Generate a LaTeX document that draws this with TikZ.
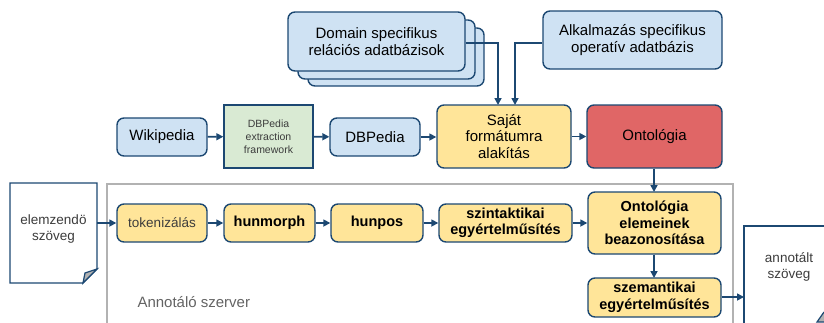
\documentclass[tikz,border=0pt]{standalone}
\usepackage{fontspec}
\setmainfont{Liberation Sans}
\usetikzlibrary{arrows.meta}
\definecolor{edge}{RGB}{28,72,114}
\definecolor{lblue}{RGB}{207,226,243}
\definecolor{lyellow}{RGB}{255,229,153}
\definecolor{lgreen}{RGB}{217,234,211}
\definecolor{lred}{RGB}{224,102,102}
\definecolor{srvgray}{RGB}{178,178,178}
\definecolor{txtgray}{RGB}{60,60,60}
\tikzset{
  box/.style={draw=edge, line width=1.4pt, rounded corners=7pt, inner sep=0pt, align=center,
    font=\fontsize{15}{16.5}\selectfont},
  bluebox/.style={box, fill=lblue},
  yelbox/.style={box, fill=lyellow},
  boldbox/.style={yelbox, font=\fontsize{14.5}{16.5}\selectfont\bfseries},
  conn/.style={draw=edge, line width=1.6pt, -{Triangle[length=7pt,width=7pt]}},
}
\newcommand{\bx}[7]{\node[#1, minimum width=#4pt-#2pt, minimum height=#5pt-#3pt] (#6) at ({(#2+#4)/2},{-(#3+#5)/2}) {#7};}
\begin{document}
\begin{tikzpicture}[x=1pt,y=1pt]
\useasboundingbox (0,0) rectangle (824,-322);
% server box
\draw[srvgray, line width=1.4pt] (107,-340) -- (107,-184) -- (733,-184) -- (733,-340);
\node[text=txtgray!80, anchor=west, font=\fontsize{15}{17}\selectfont] (srv) at (134,-302) {Annotáló szerver};
% domain stack
\bx{bluebox}{308}{28}{484}{86}{dom3}{}
\bx{bluebox}{298}{20}{475}{79}{dom2}{}
\bx{bluebox}{288}{12}{465}{71}{dom}{Domain specifikus\\relációs adatbázisok}
\bx{bluebox}{543}{11}{722}{69}{alk}{Alkalmazás specifikus\\operatív adatbázis}
% row 1
\bx{bluebox}{117}{118}{207}{156}{wiki}{Wikipedia}
\node[draw=edge, line width=1.4pt, fill=lgreen, inner sep=0pt, align=center, text=txtgray,
  minimum width=89pt, minimum height=63pt, font=\fontsize{10.5}{13}\selectfont] (ext) at (268.5,-136.5) {DBPedia\\extraction\\framework};
\bx{bluebox}{330}{118}{420}{156}{dbp}{DBPedia}
\bx{yelbox}{437}{105}{571}{168}{saj}{Saját\\formátumra\\alakítás}
\bx{box, fill=lred}{587}{105}{722}{168}{onto}{Ontológia}
% row 2
\bx{yelbox}{117}{204}{207}{242}{tok}{\color{txtgray}\fontsize{13.5}{16}\selectfont tokenizálás}
\bx{boldbox}{224}{204}{315}{242}{hmo}{hunmorph}
\bx{boldbox}{331}{204}{423}{242}{hpo}{hunpos}
\bx{boldbox}{439}{204}{572}{242}{szi}{szintaktikai\\egyértelműsítés}
\bx{boldbox}{588}{192}{721}{254}{ele}{Ontológia\\elemeinek\\beazonosítása}
\bx{boldbox}{588}{278}{721}{317}{sze}{szemantikai\\egyértelműsítés}
% input document
\draw[edge, line width=1.4pt, fill=white] (10,-183) -- (97,-183) -- (97,-269) -- (83,-283) -- (10,-283) -- cycle;
\draw[edge, line width=1.2pt, fill=srvgray] (97,-269) -- (85,-273) -- (83,-283) -- cycle;
\node[text=txtgray, align=center, font=\fontsize{13.5}{16}\selectfont] (inp) at (53.5,-229) {elemzendö\\szöveg};
\coordinate (inpR) at (97,-223);
% output document
\draw[edge, line width=1.4pt, fill=white] (744,-340) -- (744,-226) -- (840,-226) -- (840,-340);
\draw[edge, line width=1.2pt, fill=srvgray] (824,-312) -- (817,-322) -- (824,-322);
\node[text=txtgray, align=center, font=\fontsize{13.5}{16}\selectfont] (out) at (789,-267) {annotált\\szöveg};
\coordinate (outL) at (744,-297);
% connectors
\draw[conn] (wiki) -- (ext);
\draw[conn] (ext) -- (dbp);
\draw[conn] (dbp.east) -- (saj.west |- dbp.east);
\draw[conn] (saj) -- (onto);
\draw[conn] (dom.east |- 0,-43) -- (498,-43) -- (498,-105);
\draw[conn] (alk.west |- 0,-43) -- (515,-43) -- (515,-105);
\draw[conn] (onto.south -| 654,0) -- (654,-192);
\draw[conn] (ele.south -| 654,0) -- (654,-278);
\draw[conn] (inpR) -- (tok.west);
\draw[conn] (tok) -- (hmo);
\draw[conn] (hmo) -- (hpo);
\draw[conn] (hpo) -- (szi);
\draw[conn] (szi.east) -- (ele.west |- szi.east);
\draw[conn] (sze.east |- outL) -- (outL);
\end{tikzpicture}
\end{document}
